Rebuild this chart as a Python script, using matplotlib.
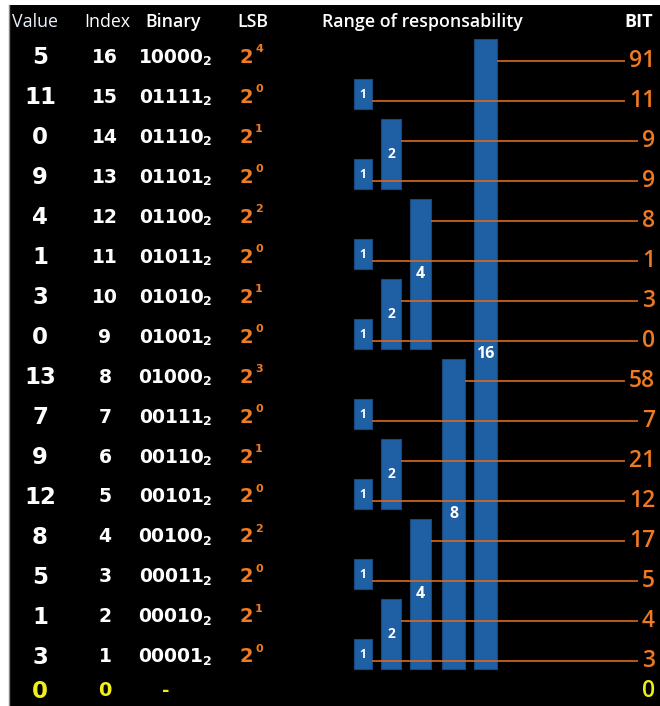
import matplotlib
matplotlib.use("Agg")
import matplotlib.pyplot as plt
from matplotlib.patches import Rectangle

# ---- data ----
indices = [16, 15, 14, 13, 12, 11, 10, 9, 8, 7, 6, 5, 4, 3, 2, 1]
values = [5, 11, 0, 9, 4, 1, 3, 0, 13, 7, 9, 12, 8, 5, 1, 3]
binary = ["10000", "01111", "01110", "01101", "01100", "01011", "01010", "01001",
          "01000", "00111", "00110", "00101", "00100", "00011", "00010", "00001"]
lsb_exp = [4, 0, 1, 0, 2, 0, 1, 0, 3, 0, 1, 0, 2, 0, 1, 0]
bit = [91, 11, 9, 9, 8, 1, 3, 0, 58, 7, 21, 12, 17, 5, 4, 3]
headers = ["Value", "Index", "Binary", "LSB", "Range of responsability", "BIT"]
zero_row = ["0", "0", "-", "0"]

# ---- style / layout ----
W, H = 660, 706
ORANGE = "#f07a22"
LINE = "#d9691e"
BAR = "#1f5fa3"
BAREDGE = "#17497f"
YELLOW = "#f0ee1c"
WHITE = "#ffffff"

col_x = {"value": 40, "index": 105, "binary": 171, "lsb": 246, "bit_right": 655}
bar_left = [354, 381, 410, 442, 474]
bar_w = [18, 20, 21, 23, 23]

fig = plt.figure(figsize=(W / 100, H / 100), dpi=100, facecolor="white")
ax = fig.add_axes([9 / W, 0, (W - 9) / W, (H - 5) / H])
ax.set_facecolor("black")
ax.set_xlim(9, W)
ax.set_ylim(-0.225, 17.3)
ax.set_xticks([])
ax.set_yticks([])
for s in ["top", "right", "bottom"]:
    ax.spines[s].set_visible(False)
ax.spines["left"].set_color("#888888")
ax.spines["left"].set_linewidth(1.0)

num_font = "DejaVu Sans"
hdr_font = "Open Sans"

# headers
hy = 16.88
hfs = 12.8
ax.text(12, hy, headers[0], color="#e8f2ff", fontsize=hfs, family=hdr_font, ha="left", va="center")
ax.text(84, hy, headers[1], color=WHITE, fontsize=hfs, family=hdr_font, ha="left", va="center")
ax.text(145, hy, headers[2], color=WHITE, fontsize=hfs, family=hdr_font, ha="left", va="center", fontweight="semibold")
ax.text(237, hy, headers[3], color=WHITE, fontsize=hfs, family=hdr_font, ha="left", va="center", fontweight="semibold")
ax.text(322, hy, headers[4], color=WHITE, fontsize=hfs, family=hdr_font, ha="left", va="center", fontweight="semibold")
ax.text(653, hy, headers[5], color=WHITE, fontsize=13, family=hdr_font, ha="right", va="center", fontweight="bold")

# rows of text
for i, v, b, e in zip(indices, values, binary, lsb_exp):
    ax.text(col_x["value"], i, str(v), color=WHITE, fontsize=16.5, family=num_font,
            fontweight="bold", ha="center", va="center")
    ax.text(col_x["index"], i, str(i), color=WHITE, fontsize=13.5, family=num_font,
            fontweight="bold", ha="center", va="center")
    ax.text(col_x["binary"], i, b, color=WHITE, fontsize=13.5, family=num_font,
            fontweight="bold", ha="center", va="center")
    ax.text(col_x["binary"] + 32, i - 0.12, "2", color=WHITE, fontsize=9, family=num_font,
            fontweight="bold", ha="left", va="center")
    ax.text(col_x["lsb"], i, "2", color=ORANGE, fontsize=14, family=num_font,
            fontweight="bold", ha="center", va="center")
    ax.text(col_x["lsb"] + 9, i + 0.2, str(e), color=ORANGE, fontsize=8, family=num_font,
            fontweight="bold", ha="left", va="center")

# zero row
zy = 0.15
ax.text(col_x["value"], zy, zero_row[0], color=YELLOW, fontsize=16.5, family=num_font,
        fontweight="bold", ha="center", va="center")
ax.text(col_x["index"], zy, zero_row[1], color=YELLOW, fontsize=14, family=num_font,
        fontweight="bold", ha="center", va="center")
ax.text(col_x["binary"] - 5, zy, zero_row[2], color=YELLOW, fontsize=13, family=num_font,
        fontweight="bold", ha="center", va="center")
ax.text(col_x["bit_right"], zy, zero_row[3], color=YELLOW, fontsize=16.5, family=hdr_font,
        fontweight="semibold", ha="right", va="center")

# bars
bar_info = []
for i, e in zip(indices, lsb_exp):
    size = 2 ** e
    bottom = i - size + 0.7
    top = i + 0.45
    x0 = bar_left[e]
    w = bar_w[e]
    ax.add_patch(Rectangle((x0, bottom), w, top - bottom, facecolor=BAR,
                           edgecolor=BAREDGE, linewidth=0.8, zorder=2))
    fs = 8.5 if size == 1 else (10 if size == 2 else 11.5)
    ax.text(x0 + w / 2, (bottom + top) / 2, str(size), color=WHITE, fontsize=fs,
            family=hdr_font, fontweight="bold", ha="center", va="center", zorder=4)
    bar_info.append((i, x0 + w))

# BIT labels and connecting lines
bit_texts = []
for i, bv in zip(indices, bit):
    t = ax.text(col_x["bit_right"], i - 0.1, str(bv), color=ORANGE, fontsize=16.5,
                family=hdr_font, fontweight="semibold", ha="right", va="center")
    bit_texts.append(t)

fig.canvas.draw()
renderer = fig.canvas.get_renderer()
inv = ax.transData.inverted()
for (i, xr), t in zip(bar_info, bit_texts):
    bb = t.get_window_extent(renderer)
    xl = inv.transform((bb.x0, 0))[0]
    ax.plot([xr, xl - 4], [i - 0.1, i - 0.1], color=LINE, linewidth=1.2, zorder=3,
            solid_capstyle="butt")

fig.savefig("out.png", dpi=100, facecolor=fig.get_facecolor())
